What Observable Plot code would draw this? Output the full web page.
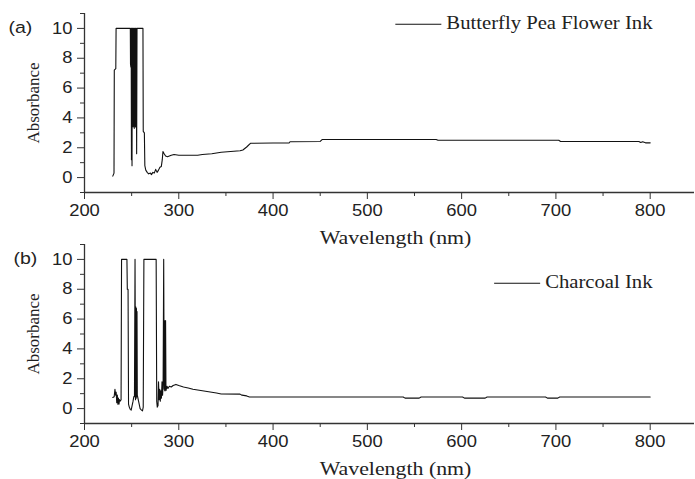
<!DOCTYPE html>
<html>
<head>
<meta charset="utf-8">
<script src="https://cdn.jsdelivr.net/npm/d3@7"></script>
<script src="https://cdn.jsdelivr.net/npm/@observablehq/plot@0.6"></script>
<style>
  html, body { margin: 0; padding: 0; background: #fff; }
  #wrap { position: relative; width: 695px; height: 479px; overflow: hidden; background: #fff; }
  #wrap svg { position: absolute; left: 0; }
</style>
</head>
<body>
<div id="wrap"></div>
<script>
// ---------- data ----------
const xDomain = [200, 847];
const yDomain = [-1, 11];
const xMajorTicks = [200, 300, 400, 500, 600, 700, 800];
const xMinorTicks = [250, 350, 450, 550, 650, 750];
const yMajorTicks = [0, 2, 4, 6, 8, 10];
const yMinorTicks = [-1, 1, 3, 5, 7, 9, 11];
const xTitle = "Wavelength (nm)";
const yTitle = "Absorbance";
const panelLabels = ["(a)", "(b)"];
const seriesNames = ["Butterfly Pea Flower Ink", "Charcoal Ink"];

// Butterfly Pea Flower Ink
const peaWavelength = [230, 231.3, 231.6, 233.2, 233.5, 248.6, 248.8, 249.2, 249.5, 249.8, 250.1, 250.4, 250.7, 251.0, 251.3, 251.6, 251.9, 252.2, 252.5, 252.8, 253.1, 253.4, 253.7, 254.0, 254.3, 254.6, 254.9, 255.3, 255.7, 262.0, 262.3, 263.5, 264.0, 265.0, 266.5, 268, 270, 271, 272.5, 274, 275.5, 277, 278.5, 280, 281.5, 282.5, 283.2, 284.5, 286, 288, 290, 292, 295, 300, 310, 320, 325, 335, 345, 355, 365, 368, 372, 376, 400, 417, 418, 450, 452, 573, 575, 703, 705, 788, 790, 792, 795, 800];
const peaAbsorbance = [0.1, 0.3, 7.2, 7.3, 10, 10, 7.6, 7.4, 10, 1.2, 10, 0.8, 10, 3.5, 10, 3.4, 10, 3.6, 10, 3.3, 10, 3.5, 10, 3.4, 10, 3.4, 10, 1.6, 10, 10, 3.1, 3.0, 0.8, 0.5, 0.35, 0.25, 0.3, 0.2, 0.35, 0.3, 0.55, 0.35, 0.5, 0.7, 0.75, 1.2, 1.75, 1.6, 1.45, 1.4, 1.45, 1.5, 1.55, 1.5, 1.5, 1.5, 1.55, 1.6, 1.7, 1.75, 1.8, 1.85, 2.05, 2.3, 2.32, 2.32, 2.4, 2.42, 2.55, 2.55, 2.5, 2.5, 2.42, 2.42, 2.35, 2.4, 2.33, 2.33];

// Charcoal Ink
const charWavelength = [230, 231.5, 232.3, 233, 233.6, 234.2, 234.8, 235.4, 236, 236.6, 237.2, 238, 238.8, 239.3, 245.0, 245.4, 246.2, 246.7, 247.5, 248.5, 249.5, 250.5, 251.5, 252.3, 253.0, 253.6, 254.1, 254.5, 254.8, 255.1, 255.4, 255.7, 256.0, 257, 258, 259, 260.5, 261.5, 262.3, 263.0, 276.0, 276.6, 277.2, 278, 278.5, 279.2, 279.8, 280.4, 281, 281.6, 282.2, 282.8, 283.4, 284.0, 284.5, 284.8, 285.1, 285.4, 285.7, 286.0, 286.4, 287.5, 288.5, 290, 292, 294, 297, 300, 305, 310, 315, 320, 330, 340, 345, 365, 367, 372, 375, 538, 540, 555, 557, 601, 603, 625, 627, 689, 691, 702, 704, 800];
const charAbsorbance = [0.75, 0.8, 1.3, 0.9, 1.1, 0.4, 0.9, 0.3, 0.7, 0.3, 0.6, 0.5, 0.6, 10, 10, 8.0, 8.0, 0.3, 0.1, -0.05, -0.1, 0.2, 0.5, 0.8, 0.8, 10, 0.6, 6.8, 0.7, 6.7, 0.8, 6.5, 0.9, 0.6, 0.3, 0.0, -0.1, -0.15, 0.1, 10, 10, 0.5, 0.1, 0.2, 1.8, 0.6, 1.3, 0.5, 1.2, 0.7, 1.8, 0.9, 1.7, 10, 1.3, 5.9, 1.2, 5.8, 1.3, 5.9, 1.2, 1.5, 1.35, 1.5, 1.45, 1.55, 1.62, 1.55, 1.45, 1.38, 1.3, 1.25, 1.15, 1.05, 0.98, 0.97, 0.9, 0.85, 0.78, 0.78, 0.7, 0.7, 0.78, 0.78, 0.7, 0.7, 0.78, 0.78, 0.7, 0.7, 0.78, 0.78];

const panels = [
  {wl: peaWavelength, ab: peaAbsorbance, name: seriesNames[0], tag: panelLabels[0], top: 0, tagDx: -76, legendDy: 10},
  {wl: charWavelength, ab: charAbsorbance, name: seriesNames[1], tag: panelLabels[1], top: 231, tagDx: -71, legendDy: 38}
];

const STRETCH = 1.15;
const wrap = document.getElementById("wrap");

// widen glyphs horizontally around each (unrotated) text's own anchor point
function stretchText(svg, k) {
  svg.querySelectorAll("text").forEach(t => {
    const tr = t.getAttribute("transform") || "";
    if (/rotate/.test(tr)) return;
    const x = t.getAttribute("x");
    if (x != null && isFinite(+x)) t.setAttribute("x", +x / k);
    t.setAttribute("transform", (tr + ` scale(${k},1)`).trim());
  });
}

for (const p of panels) {
  const data = p.wl.map((w, i) => ({w, a: p.ab[i]}));
  const chart = Plot.plot({
    width: 695,
    height: 250,
    marginLeft: 84,
    marginRight: 1,
    marginTop: 13,
    marginBottom: 58,
    x: {domain: xDomain},
    y: {domain: yDomain},
    style: {background: "transparent", fontFamily: "'Liberation Sans', Arial, sans-serif", fontSize: "16px", color: "#222", overflow: "visible"},
    marks: [
      Plot.ruleX([xDomain[0]], {stroke: "#333", strokeWidth: 1.3}),
      Plot.ruleY([yDomain[0]], {stroke: "#333", strokeWidth: 1.3}),
      Plot.axisX({ticks: xMajorTicks, tickSize: 7, tickPadding: 5, label: null, stroke: "#333", tickFormat: d => String(d)}),
      Plot.axisX({ticks: xMinorTicks, tickSize: 4, label: null, stroke: "#333", tickFormat: () => ""}),
      Plot.axisY({ticks: yMajorTicks, tickSize: 7, tickPadding: 5, label: null, stroke: "#333", tickFormat: d => String(d)}),
      Plot.axisY({ticks: yMinorTicks, tickSize: 4, label: null, stroke: "#333", tickFormat: () => ""}),
      Plot.line(data, {x: "w", y: "a", stroke: "#111", strokeWidth: 1.1}),
      Plot.text([xTitle], {frameAnchor: "bottom", lineAnchor: "bottom", dy: 51, dx: 6, fontFamily: "'Liberation Serif', 'Times New Roman', serif", fontSize: 19, fill: "#222"}),
      Plot.text([yTitle], {frameAnchor: "left", lineAnchor: "middle", textAnchor: "middle", rotate: -90, dx: -51, fontFamily: "'Liberation Serif', 'Times New Roman', serif", fontSize: 17, fill: "#222"}),
      Plot.text([p.tag], {frameAnchor: "top-left", lineAnchor: "middle", textAnchor: "start", dx: p.tagDx, dy: 14, fontSize: 17, fill: "#222"}),
      Plot.text([p.name], {frameAnchor: "top-right", lineAnchor: "middle", textAnchor: "end", dx: -42, dy: p.legendDy, fontFamily: "'Liberation Serif', 'Times New Roman', serif", fontSize: 18, fill: "#222"})
    ]
  });
  chart.style.top = p.top + "px";
  wrap.appendChild(chart);
  stretchText(chart, STRETCH);

  // legend swatch, placed just before the legend text
  const svgRect = chart.getBoundingClientRect();
  const legendText = Array.from(chart.querySelectorAll("text")).find(t => t.textContent === p.name);
  if (legendText) {
    const r = legendText.getBoundingClientRect();
    const x2 = r.left - svgRect.left - 5;
    const yc = r.top - svgRect.top + r.height * 0.5 + 1;
    d3.select(chart).append("line")
      .attr("x1", x2 - 46).attr("x2", x2)
      .attr("y1", yc).attr("y2", yc)
      .attr("stroke", "#111").attr("stroke-width", 1.1);
  }
}
</script>
</body>
</html>
